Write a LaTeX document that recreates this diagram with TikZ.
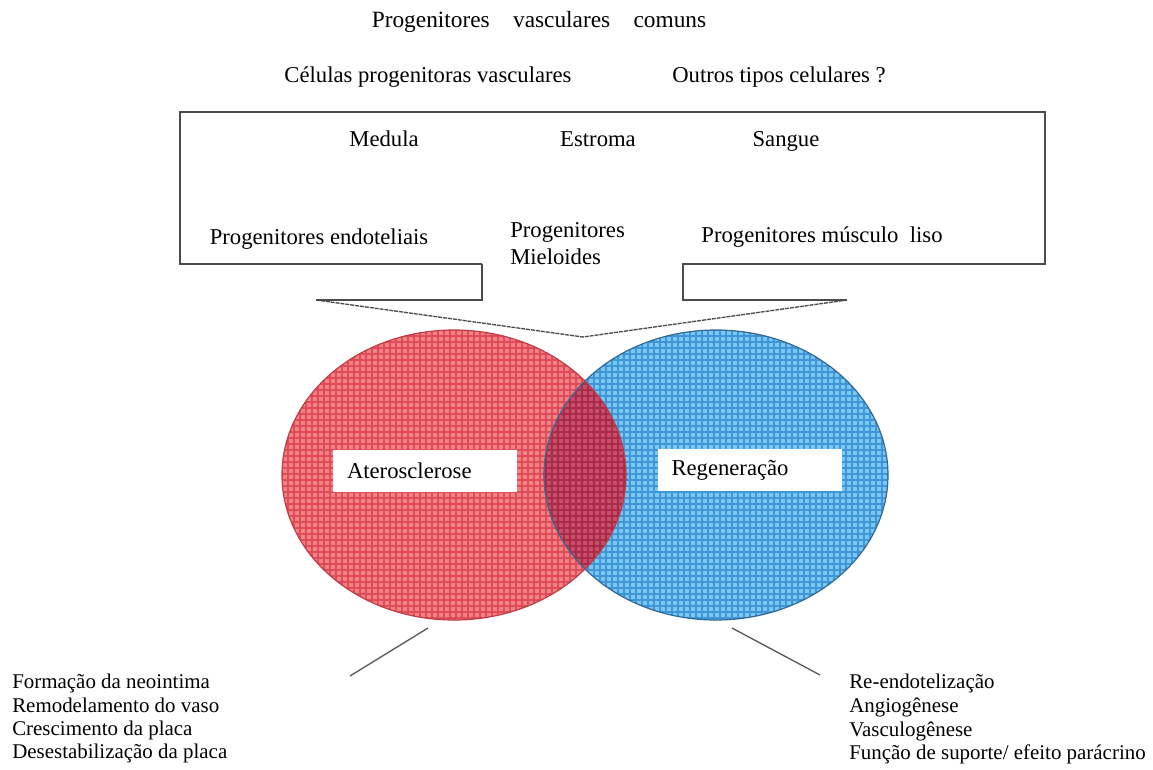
\documentclass[tikz,border=0pt]{standalone}
\usepackage{fontspec}
\setmainfont{Liberation Serif}
\definecolor{redbase}{RGB}{244,130,130}
\definecolor{redline}{RGB}{222,75,90}
\definecolor{bluebase}{RGB}{122,198,245}
\definecolor{blueline}{RGB}{62,150,215}
\definecolor{ovbase}{RGB}{198,78,104}
\definecolor{ovline}{RGB}{168,42,72}
\definecolor{rededge}{RGB}{190,60,70}
\definecolor{blueedge}{RGB}{50,105,145}
\begin{document}
\begin{tikzpicture}[x=0.75pt,y=-0.75pt,
  txt/.style={inner sep=0pt,font=\fontsize{17}{20}\selectfont},
  list/.style={inner sep=0pt,font=\fontsize{15.7}{19}\selectfont},
  outline/.style={draw=black!70,line width=1.1pt},
  dashline/.style={draw=black!70,line width=1pt,dash pattern=on 3pt off 0.7pt},
  leader/.style={draw=black!65,line width=1pt},
  labelbox/.style={fill=white,inner xsep=10.5pt,inner ysep=0pt,text width=117pt,minimum height=31pt,align=left,font=\fontsize{17}{20}\selectfont},
  gridline/.style={line width=0.8pt,step=4.5pt}]
\useasboundingbox (0,0) rectangle (1153,769);
\fill[white] (0,0) rectangle (1153,769);

% blue ellipse
\fill[bluebase] (716,475) ellipse [x radius=172, y radius=145];
\begin{scope}
  \clip (716,475) ellipse [x radius=172, y radius=145];
  \draw[blueline,gridline] (540,625) grid (895,325);
\end{scope}
% red ellipse
\fill[redbase] (454,475) ellipse [x radius=172, y radius=145];
\begin{scope}
  \clip (454,475) ellipse [x radius=172, y radius=145];
  \draw[redline,gridline] (278,625) grid (630,325);
\end{scope}
% overlap
\begin{scope}
  \clip (454,475) ellipse [x radius=172, y radius=145];
  \clip (716,475) ellipse [x radius=172, y radius=145];
  \fill[ovbase] (540,325) rectangle (630,625);
  \draw[ovline,gridline] (540,625) grid (630,325);
\end{scope}
\draw[blueedge,line width=0.9pt] (716,475) ellipse [x radius=172, y radius=145];
\draw[rededge,line width=0.9pt] (454,475) ellipse [x radius=172, y radius=145];

% callout
\draw[outline] (482,264) -- (180,264) -- (180,112) -- (1045,112) -- (1045,264) -- (683,264) -- (683,300) -- (847,300);
\draw[outline] (482,264) -- (482,300) -- (316,300);
\draw[dashline] (316,300) -- (583,337) -- (847,300);

% texts
\node[txt,anchor=base,font=\fontsize{17.5}{20}\selectfont] (title) at (539,27) {Progenitores\hspace{1em}vasculares\hspace{1em}comuns};
\node[txt,anchor=base] (cel) at (428,82) {Células progenitoras vasculares};
\node[txt,anchor=base] (outros) at (779,82) {Outros tipos celulares ?};
\node[txt,anchor=base] (medula) at (384,146) {Medula};
\node[txt,anchor=base] (estroma) at (598,146) {Estroma};
\node[txt,anchor=base] (sangue) at (786,146) {Sangue};
\node[txt,anchor=base] (endo) at (319,244) {Progenitores endoteliais};
\node[txt,anchor=base west] (miel1) at (510,237) {Progenitores};
\node[txt,anchor=base west] (miel2) at (510,264) {Mieloides};
\node[txt,anchor=base] (musc) at (822,242) {Progenitores músculo\ \ liso};

\node[labelbox] (ath) at (425,471) {Aterosclerose};
\node[labelbox] (reg) at (749.5,470) {Regeneração};

% leaders
\coordinate (la) at (428,628);
\coordinate (lb) at (350,676);
\coordinate (ra) at (732,628);
\coordinate (rb) at (820,675);
\draw[leader] (la) -- (lb);
\draw[leader] (ra) -- (rb);

\node[list,anchor=base west] (a1) at (12,688) {Formação da neointima};
\node[list,anchor=base west] (a2) at (12,712) {Remodelamento do vaso};
\node[list,anchor=base west] (a3) at (12,735) {Crescimento da placa};
\node[list,anchor=base west] (a4) at (12,758) {Desestabilização da placa};

\node[list,anchor=base west] (b1) at (849,688) {Re-endotelização};
\node[list,anchor=base west] (b2) at (849,712) {Angiogênese};
\node[list,anchor=base west] (b3) at (849,736) {Vasculogênese};
\node[list,anchor=base west] (b4) at (849,759) {Função de suporte/ efeito parácrino};
\end{tikzpicture}
\end{document}
